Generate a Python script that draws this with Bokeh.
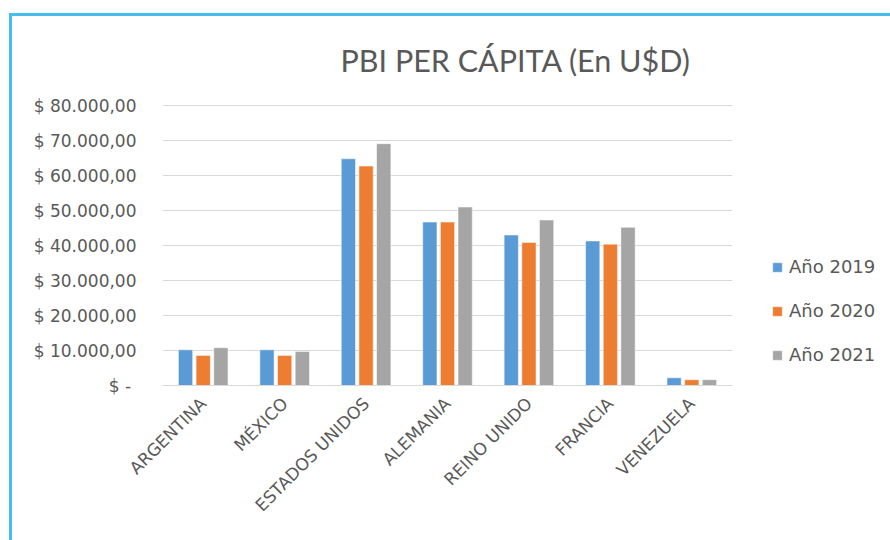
import math
from bokeh.plotting import figure
from bokeh.models import (ColumnDataSource, FactorRange, Range1d, FixedTicker,
                          Legend, LegendItem, Title)
from bokeh.transform import dodge
from bokeh.embed import file_html
from bokeh.resources import INLINE

# ---- data ----
countries = ["ARGENTINA", "MÉXICO", "ESTADOS UNIDOS", "ALEMANIA",
             "REINO UNIDO", "FRANCIA", "VENEZUELA"]
anio_2019 = [10200, 10200, 64800, 46700, 43000, 41300, 2200]
anio_2020 = [8600, 8600, 62700, 46700, 40900, 40400, 1650]
anio_2021 = [10800, 9700, 69100, 51000, 47300, 45200, 1650]
series_names = ["Año 2019", "Año 2020", "Año 2021"]
y_ticks = [0, 10000, 20000, 30000, 40000, 50000, 60000, 70000, 80000]
y_tick_labels = ["$ -\u00a0", "$ 10.000,00", "$ 20.000,00", "$ 30.000,00",
                 "$ 40.000,00", "$ 50.000,00", "$ 60.000,00", "$ 70.000,00",
                 "$ 80.000,00"]
title_text = "PBI PER CÁPITA (En U$D)"

colors = ["#5B9BD5", "#ED7D31", "#A5A5A5"]
TEXT = "#595959"
FONT = "DejaVu Sans"
BORDER = "#46BFF0"

source = ColumnDataSource(dict(x=countries, y19=anio_2019, y20=anio_2020, y21=anio_2021))

# chart-area border (only its top and left edges are visible in the picture)
border_css = {
    "background-color": "white",
    "background-image": f"linear-gradient({BORDER}, {BORDER}), linear-gradient({BORDER}, {BORDER})",
    "background-size": "3px 540px, 890px 3px",
    "background-position": "9px 13px, 9px 13px",
    "background-repeat": "no-repeat",
}

# small headroom above the top tick so its gridline is not clipped
p = figure(x_range=FactorRange(*countries), y_range=Range1d(0, 80300),
           frame_width=570, frame_height=281, output_backend="svg", toolbar_location=None,
           min_border_left=162, min_border_right=158, min_border_top=104,
           min_border_bottom=155, styles=border_css)
p.title.visible = False

bar_w = 0.175
step = 0.217
renderers = []
for i, (col, c) in enumerate(zip(["y19", "y20", "y21"], colors)):
    r = p.vbar(x=dodge("x", (i - 1) * step, range=p.x_range), top=col, width=bar_w,
               source=source, fill_color=c, line_color="white", line_width=0.5)
    renderers.append(r)

legend = Legend(items=[LegendItem(label=n, renderers=[r]) for n, r in zip(series_names, renderers)],
                location=(39, 20), orientation="vertical", padding=0, margin=0,
                spacing=23, label_height=20, glyph_width=12, glyph_height=12,
                label_standoff=6, border_line_color=None, background_fill_alpha=0,
                label_text_font=FONT, label_text_font_size="18px",
                label_text_color=TEXT)
p.add_layout(legend, "right")

t = Title(text=title_text, align="left", offset=178, text_font="Lato",
          text_font_size="30.5px", text_font_style="normal", text_color=TEXT,
          standoff=53)
p.add_layout(t, "above")

p.yaxis.ticker = FixedTicker(ticks=y_ticks)
p.yaxis.major_label_overrides = {t_: l for t_, l in zip(y_ticks, y_tick_labels)}
p.yaxis.axis_line_color = None
p.yaxis.major_tick_line_color = None
p.yaxis.minor_tick_line_color = None
p.yaxis.major_tick_out = 0
p.yaxis.major_tick_in = 0
p.yaxis.major_label_standoff = 26
p.yaxis.major_label_text_font = FONT
p.yaxis.major_label_text_font_size = "17px"
p.yaxis.major_label_text_color = TEXT

p.xaxis.axis_line_color = "#D9D9D9"
p.xaxis.major_tick_line_color = None
p.xaxis.minor_tick_line_color = None
p.xaxis.major_tick_out = 0
p.xaxis.major_tick_in = 0
p.xaxis.major_label_orientation = math.pi / 4
p.xaxis.major_label_standoff = 15
p.xaxis.major_label_text_font = FONT
p.xaxis.major_label_text_font_size = "17px"
p.xaxis.major_label_text_color = TEXT

p.xgrid.grid_line_color = None
p.ygrid.grid_line_color = "#D9D9D9"
p.ygrid.grid_line_width = 1
p.outline_line_color = None
p.x_range.range_padding = 0
p.background_fill_color = "white"
p.border_fill_alpha = 0

open("out.html", "w").write(file_html(p, INLINE))
